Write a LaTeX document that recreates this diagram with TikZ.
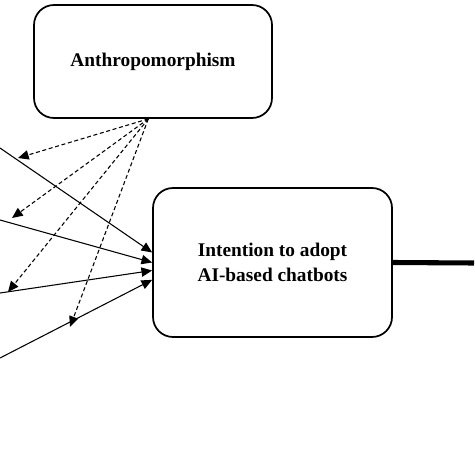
\documentclass[tikz,border=0pt]{standalone}
\usepackage{fontspec}
\setmainfont{Liberation Serif}
\usetikzlibrary{arrows.meta}
\tikzset{
  factor/.style={draw, line width=1.3pt, rounded corners=15pt, align=center,
    font=\fontsize{14.5}{19}\selectfont\bfseries},
  link/.style={line width=0.8pt, -{Triangle[length=8pt,width=7pt]}},
  moderate/.style={link, dashed, dash pattern=on 3pt off 2pt}
}
\begin{document}
\begin{tikzpicture}[x=0.75pt,y=-0.75pt]
  \useasboundingbox (0,0) rectangle (474,474);

  \node[factor, minimum width=238*0.75pt, minimum height=113*0.75pt] (anthro) at (153,61.5) {Anthropomorphism};
  \node[factor, minimum width=239*0.75pt, minimum height=149*0.75pt] (intent) at (272.5,262.5) {Intention to adopt\\AI-based chatbots};

  % incoming paths from the left
  \coordinate (in1) at (0,148);
  \coordinate (in2) at (0,220);
  \coordinate (in3) at (0,293);
  \coordinate (in4) at (0,358);
  \coordinate (t1) at ([yshift=7.5pt]intent.west);
  \coordinate (t2) at ([yshift=0pt]intent.west);
  \coordinate (t3) at ([yshift=-6pt]intent.west);
  \coordinate (t4) at ([yshift=-13pt]intent.west);
  \draw[link] (in1) -- (t1);
  \draw[link] (in2) -- (t2);
  \draw[link] (in3) -- (t3);
  \draw[link] (in4) -- (t4);

  % moderating paths
  \coordinate (m) at ([xshift=-3.5pt]anthro.south);
  \coordinate (m1) at (18,158);
  \coordinate (m2) at (12,218);
  \coordinate (m3) at (8,292);
  \coordinate (m4) at (70,327);
  \draw[moderate] (m) -- (m1);
  \draw[moderate] (m) -- (m2);
  \draw[moderate] (m) -- (m3);
  \draw[moderate] (m) -- (m4);

  % outgoing path
  \coordinate (out) at (474,263);
  \draw[line width=3.8pt] (intent.east) -- (out);
\end{tikzpicture}
\end{document}
